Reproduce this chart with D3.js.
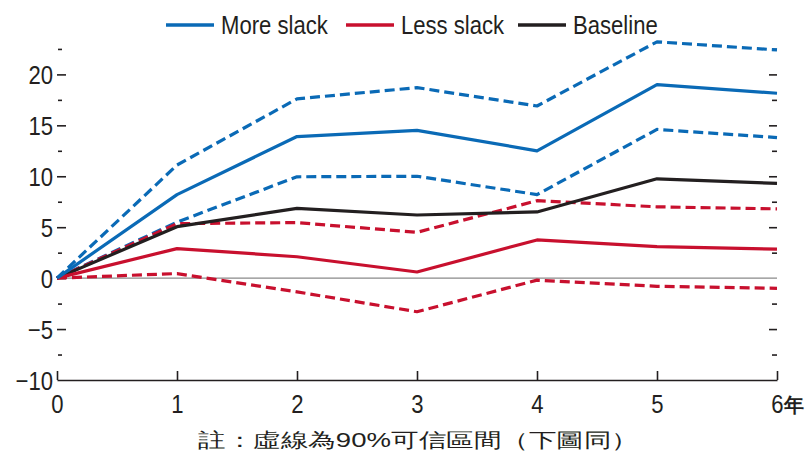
<!DOCTYPE html>
<html lang="zh-Hant">
<head>
<meta charset="UTF-8">
<title>slack</title>
<script src="https://cdn.jsdelivr.net/npm/d3@7"></script>
<style>
  body { margin: 0; background: #fff; }
  text { font-family: "Liberation Sans", Arial, sans-serif; fill: #231f20; }
</style>
</head>
<body>
<script>
let width = 809;
let height = 453;
let squeeze = 0.85; // condensed look of the original type

// years after shock
let years = [0, 1, 2, 3, 4, 5, 6];

let moreSlack      = [0, 8.2, 13.9, 14.5, 12.5, 19.0, 18.15];
let moreSlackUpper = [0, 11.1, 17.6, 18.7, 16.9, 23.2, 22.4];
let moreSlackLower = [0, 5.5, 9.95, 10.0, 8.2, 14.6, 13.8];
let lessSlack      = [0, 2.9, 2.1, 0.6, 3.75, 3.1, 2.85];
let lessSlackUpper = [0, 5.35, 5.45, 4.5, 7.6, 7.0, 6.8];
let lessSlackLower = [0, 0.45, -1.35, -3.3, -0.2, -0.8, -1.0];
let baseline       = [0, 5.05, 6.85, 6.2, 6.5, 9.75, 9.3];

let yMajor = [-10, -5, 0, 5, 10, 15, 20];
let yMinor = [-7.5, -2.5, 2.5, 7.5, 12.5, 17.5, 22.5];

let legendItems = [
  { name: 'More slack', color: '#0a6ab6' },
  { name: 'Less slack', color: '#c8102e' },
  { name: 'Baseline', color: '#231f20' }
];

let series = [
  { values: moreSlackUpper, color: '#0a6ab6', dash: true },
  { values: moreSlackLower, color: '#0a6ab6', dash: true },
  { values: lessSlackUpper, color: '#c8102e', dash: true },
  { values: lessSlackLower, color: '#c8102e', dash: true },
  { values: baseline, color: '#231f20', dash: false },
  { values: lessSlack, color: '#c8102e', dash: false },
  { values: moreSlack, color: '#0a6ab6', dash: false }
];

let svg = d3.select('body')
  .append('svg')
  .attr('width', width)
  .attr('height', height);

let x = d3.scaleLinear().domain([0, 6]).range([57, 777]);
let y = d3.scaleLinear().domain([-10, 20]).range([380, 74.4]);

function fmt(d) {
  return d < 0 ? '\u2212' + Math.abs(d) : String(d);
}

// left ticks
svg.append('g')
  .attr('transform', 'translate(66,0)')
  .call(d3.axisLeft(y).tickValues(yMajor).tickSize(9).tickFormat(fmt))
  .call(g => g.select('.domain').remove())
  .call(g => g.selectAll('line').attr('stroke', '#231f20').attr('stroke-width', 1.6)
    .attr('display', d => d === -10 ? 'none' : null))
  .call(g => g.selectAll('text')
    .attr('font-size', 26)
    .attr('fill', '#231f20')
    .attr('font-family', '"Liberation Sans", Arial, sans-serif')
    .attr('x', -13 / squeeze)
    .attr('dy', '0.36em')
    .attr('transform', 'scale(' + squeeze + ',1)'));

svg.append('g')
  .attr('transform', 'translate(62,0)')
  .call(d3.axisLeft(y).tickValues(yMinor).tickSize(4).tickFormat(''))
  .call(g => g.select('.domain').remove())
  .call(g => g.selectAll('line').attr('stroke', '#231f20').attr('stroke-width', 1.6));

// right ticks
svg.append('g')
  .attr('transform', 'translate(777,0)')
  .call(d3.axisRight(y).tickValues(yMajor.filter(d => d > -10 && d !== 0)).tickSizeInner(-8).tickSizeOuter(0).tickFormat(''))
  .call(g => g.select('.domain').remove())
  .call(g => g.selectAll('line').attr('stroke', '#231f20').attr('stroke-width', 1.6));

svg.append('g')
  .attr('transform', 'translate(777,0)')
  .call(d3.axisRight(y).tickValues(yMinor).tickSizeInner(-5).tickSizeOuter(0).tickFormat(''))
  .call(g => g.select('.domain').remove())
  .call(g => g.selectAll('line').attr('stroke', '#231f20').attr('stroke-width', 1.6));

// zero line
svg.append('line')
  .attr('x1', x(0)).attr('x2', x(6))
  .attr('y1', y(0)).attr('y2', y(0))
  .attr('stroke', '#8a8a8a')
  .attr('stroke-width', 1.4);

// bottom axis
svg.append('g')
  .attr('transform', 'translate(0,' + y(-10) + ')')
  .call(d3.axisBottom(x).tickValues(years).tickSizeInner(-9).tickSizeOuter(0).tickFormat(d => d))
  .call(g => g.select('.domain').attr('stroke', '#231f20').attr('stroke-width', 1.6))
  .call(g => g.selectAll('line').attr('stroke', '#231f20').attr('stroke-width', 1.6))
  .call(g => g.selectAll('text')
    .attr('font-size', 26)
    .attr('fill', '#231f20')
    .attr('font-family', '"Liberation Sans", Arial, sans-serif')
    .attr('y', 33)
    .attr('dy', 0)
    .attr('transform', 'scale(' + squeeze + ',1)'));

svg.append('text')
  .attr('x', x(6) + 7)
  .attr('y', 412)
  .attr('font-family', '"Noto Sans CJK TC", sans-serif')
  .attr('font-weight', 'bold')
  .attr('font-size', 20)
  .text('年');

// lines
let line = d3.line()
  .x((d, i) => x(years[i]))
  .y(d => y(d));

svg.append('g')
  .selectAll('path')
  .data(series)
  .join('path')
  .attr('d', d => line(d.values))
  .attr('fill', 'none')
  .attr('stroke', d => d.color)
  .attr('stroke-width', 3.2)
  .attr('stroke-dasharray', d => d.dash ? '10,5' : null)
  .attr('stroke-linejoin', 'round');

// legend
let legendX = [166, 346, 518];
let legend = svg.append('g')
  .selectAll('g')
  .data(legendItems)
  .join('g')
  .attr('transform', (d, i) => 'translate(' + legendX[i] + ',25)');

legend.append('line')
  .attr('x1', 0).attr('x2', 48)
  .attr('stroke', d => d.color)
  .attr('stroke-width', 3.6);

legend.append('text')
  .attr('x', 55 / squeeze)
  .attr('y', 9.3)
  .attr('font-size', 26)
  .attr('transform', 'scale(' + squeeze + ',1)')
  .text(d => d.name);

// note
svg.append('text')
  .attr('x', 198)
  .attr('y', 447)
  .attr('font-family', '"Noto Sans CJK TC", serif')
  .attr('font-size', 20)
  .attr('textLength', 441)
  .attr('lengthAdjust', 'spacingAndGlyphs')
  .text('註：虛線為90%可信區間（下圖同）');
</script>
</body>
</html>
